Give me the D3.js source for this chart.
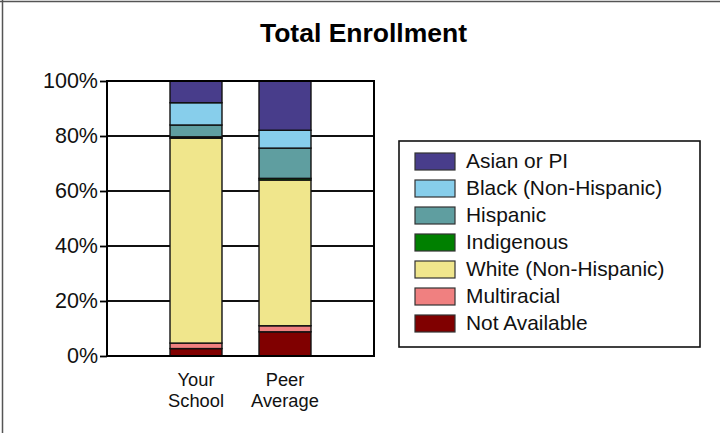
<!DOCTYPE html>
<html>
<head>
<meta charset="utf-8">
<script src="https://cdn.jsdelivr.net/npm/d3@7"></script>
<style>
  html, body { margin: 0; padding: 0; background: #fff; }
  svg { display: block; font-family: "Liberation Sans", Arial, sans-serif; }
</style>
</head>
<body>
<svg id="chart" width="720" height="433"></svg>
<script>
const title = "Total Enrollment";
const categories = ["Your School", "Peer Average"];
const categoryLines = [["Your", "School"], ["Peer", "Average"]];
const seriesNames = ["Asian or PI", "Black (Non-Hispanic)", "Hispanic", "Indigenous", "White (Non-Hispanic)", "Multiracial", "Not Available"];
const seriesColors = ["#483D8B", "#87CEEB", "#5F9EA0", "#008000", "#F0E68C", "#F08080", "#800000"];
const yourSchool = [7.9, 8.1, 4.3, 0.5, 74.5, 2.0, 2.7];
const peerAverage = [17.9, 6.5, 11.0, 0.6, 53.0, 2.2, 8.8];
const yTicks = [0, 0.2, 0.4, 0.6, 0.8, 1.0];

(function () {
const svg = d3.select("#chart");

// page border (top and left)
svg.append("line").attr("x1", 0).attr("x2", 720).attr("y1", 1.5).attr("y2", 1.5)
  .attr("stroke", "#555").attr("stroke-width", 1.5);
svg.append("line").attr("x1", 2.5).attr("x2", 2.5).attr("y1", 0).attr("y2", 433)
  .attr("stroke", "#555").attr("stroke-width", 1.5);

const pLeft = 107, pRight = 374, pTop = 81, pBottom = 356;

const x = d3.scaleBand().domain(categories).range([pLeft, pRight])
  .paddingInner(0.416).paddingOuter(0.708);
const y = d3.scaleLinear().domain([0, 1]).range([pBottom, pTop]);

// table for stacking
const valuesByCat = [yourSchool, peerAverage];
const table = categories.map((c, i) => {
  const row = { category: c };
  seriesNames.forEach((s, j) => row[s] = valuesByCat[i][j] / 100);
  return row;
});
const stackOrder = seriesNames.slice().reverse();
const stacked = d3.stack().keys(stackOrder)(table);
const color = d3.scaleOrdinal().domain(seriesNames).range(seriesColors);

// title
svg.append("text").attr("x", 363.5).attr("y", 41.7).attr("text-anchor", "middle")
  .attr("font-size", 26.5).attr("font-weight", "bold").attr("fill", "#000").text(title);

// gridlines
svg.append("g").selectAll("line").data(yTicks.filter(t => t > 0 && t < 1)).join("line")
  .attr("x1", pLeft).attr("x2", pRight)
  .attr("y1", d => y(d)).attr("y2", d => y(d))
  .attr("stroke", "#111").attr("stroke-width", 1.8);

// y axis
const yAxis = d3.axisLeft(y).tickValues(yTicks).tickFormat(d3.format(".0%"))
  .tickSizeOuter(0).tickSizeInner(7).tickPadding(2);
const ga = svg.append("g").attr("transform", `translate(${pLeft},0)`).call(yAxis);
ga.select(".domain").remove();
ga.selectAll(".tick line").attr("stroke", "#000").attr("stroke-width", 1.8);
ga.selectAll(".tick text").attr("font-size", 21.5).attr("fill", "#111")
  .attr("font-family", "'Liberation Sans', Arial, sans-serif").attr("dy", "0.3em");

// bars
svg.append("g").selectAll("g").data(stacked).join("g")
  .attr("fill", d => color(d.key))
  .selectAll("rect").data(d => d).join("rect")
  .attr("x", d => x(d.data.category))
  .attr("width", x.bandwidth())
  .attr("y", d => y(d[1]))
  .attr("height", d => y(d[0]) - y(d[1]))
  .attr("stroke", "#111").attr("stroke-width", 1.4);

// plot frame
svg.append("rect").attr("x", pLeft).attr("y", pTop).attr("width", pRight - pLeft).attr("height", pBottom - pTop)
  .attr("fill", "none").attr("stroke", "#000").attr("stroke-width", 2);

// category labels
const cl = svg.append("g").selectAll("text").data(categories).join("text")
  .attr("text-anchor", "middle").attr("font-size", 18.3).attr("fill", "#111")
  .attr("x", d => x(d) + x.bandwidth() / 2).attr("y", 386);
cl.each(function(d, i) {
  const t = d3.select(this);
  categoryLines[i].forEach((line, k) => {
    t.append("tspan").attr("x", x(d) + x.bandwidth() / 2).attr("dy", k === 0 ? 0 : 20.7).text(line);
  });
});

// legend
const lg = svg.append("g");
lg.append("rect").attr("x", 399).attr("y", 141).attr("width", 301).attr("height", 206)
  .attr("fill", "#fff").attr("stroke", "#111").attr("stroke-width", 1.6);
const item = lg.selectAll("g.item").data(seriesNames).join("g").attr("class", "item")
  .attr("transform", (d, i) => `translate(415,${153 + i * 27})`);
item.append("rect").attr("width", 40).attr("height", 17)
  .attr("fill", d => color(d)).attr("stroke", "#333").attr("stroke-width", 1.2);
item.append("text").attr("x", 51).attr("y", 15.3).attr("font-size", 20.9).attr("fill", "#111").text(d => d);
})();
</script>
</body>
</html>
